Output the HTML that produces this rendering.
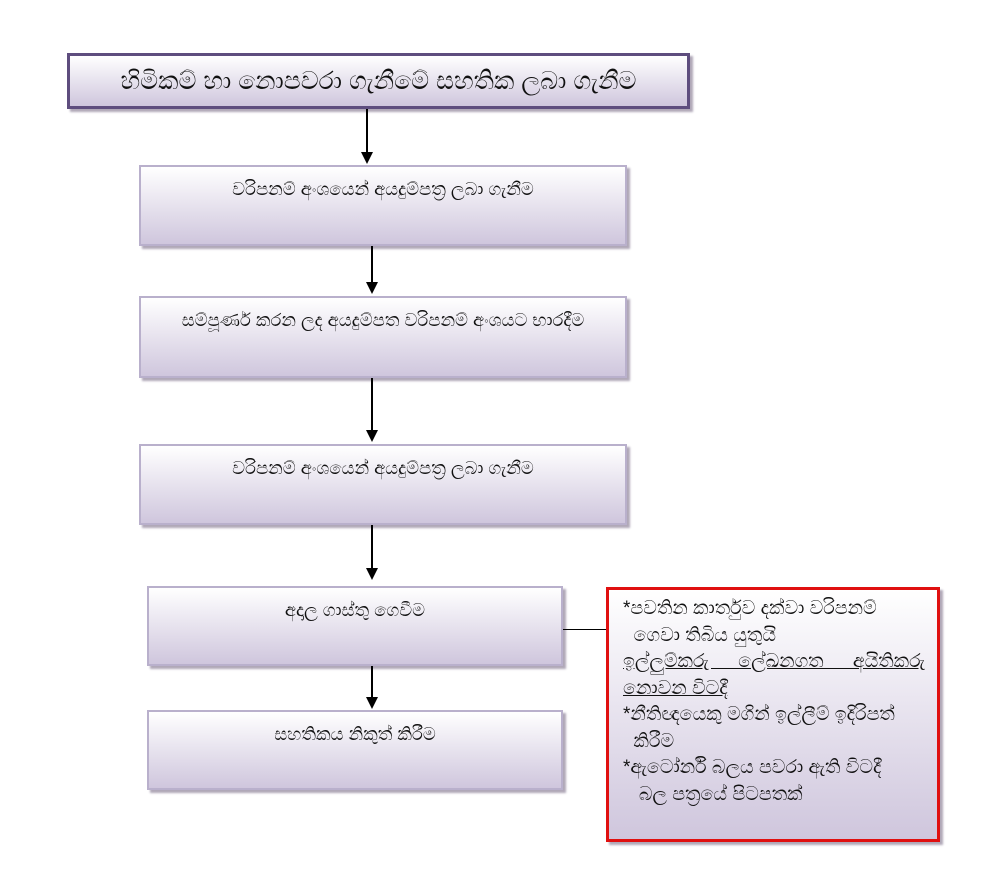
<!DOCTYPE html>
<html><head><meta charset="utf-8"><style>
body{margin:0;width:1000px;height:885px;background:#fff;position:relative;overflow:hidden;font-family:"Liberation Sans","Noto Sans CJK SC",sans-serif;}
.b{position:absolute;box-sizing:border-box;border:2px solid #b9b0cc;background:linear-gradient(#fff,#cfc6dd);box-shadow:3px 3px 2px #b0a8b8;text-align:center;color:#111;font-size:18px;}
.l{position:absolute;width:2px;background:#000;}
.h{position:absolute;width:0;height:0;border-left:6px solid transparent;border-right:6px solid transparent;border-top:12px solid #000;}
.j{text-align:justify;text-align-last:justify;text-decoration:underline;}
</style></head><body>
<div class="b" style="left:67px;top:53px;width:623px;height:56px;border:3px solid #5e4d7e;font-size:25px;line-height:50px;">හිමිකම් හා නොපවරා ගැනීමේ සහතික ලබා ගැනීම</div>
<div class="b" style="left:139px;top:165px;width:488px;height:81px;padding-top:12px;">වරිපනම් අංශයෙන් අයදුම්පත්‍ර ලබා ගැනීම</div>
<div class="b" style="left:139px;top:296px;width:488px;height:82px;padding-top:12px;">සම්පූර්ණ කරන ලද අයදුම්පත වරිපනම් අංශයට භාරදීම</div>
<div class="b" style="left:139px;top:444px;width:488px;height:81px;padding-top:12px;">වරිපනම් අංශයෙන් අයදුම්පත්‍ර ලබා ගැනීම</div>
<div class="b" style="left:147px;top:586px;width:416px;height:80px;padding-top:12px;">අදාල ගාස්තු ගෙවීම</div>
<div class="b" style="left:147px;top:710px;width:416px;height:80px;padding-top:12px;">සහතිකය නිකුත් කිරීම</div>
<div class="b" style="left:606px;top:587px;width:334px;height:255px;border:3px solid #e01010;text-align:left;padding:6px 12px 0 14px;font-size:19px;line-height:26.5px;">*පවතින කාර්තුව දක්වා වරිපනම්<br>&nbsp;&nbsp;ගෙවා තිබිය යුතුයි<div class="j">ඉල්ලුම්කරු ලේඛනගත අයිතිකරු</div><u>නොවන විටදී</u><br>*නීතිඥයෙකු මගින් ඉල්ලීම් ඉදිරිපත්<br>&nbsp;&nbsp;කිරීම<br>*ඇටෝර්නි බලය පවරා ඇති විටදී<br>&nbsp;&nbsp;&nbsp;බල පත්‍රයේ පිටපතක්</div>
<div class="l" style="left:366px;top:109px;height:44px"></div><div class="h" style="left:361px;top:152px"></div>
<div class="l" style="left:371px;top:246px;height:37px"></div><div class="h" style="left:366px;top:282px"></div>
<div class="l" style="left:371px;top:378px;height:52px"></div><div class="h" style="left:366px;top:430px"></div>
<div class="l" style="left:371px;top:525px;height:44px"></div><div class="h" style="left:366px;top:568px"></div>
<div class="l" style="left:371px;top:666px;height:32px"></div><div class="h" style="left:366px;top:697px"></div>
<div style="position:absolute;left:563px;top:629px;width:43px;height:1px;background:#000"></div>
</body></html>
